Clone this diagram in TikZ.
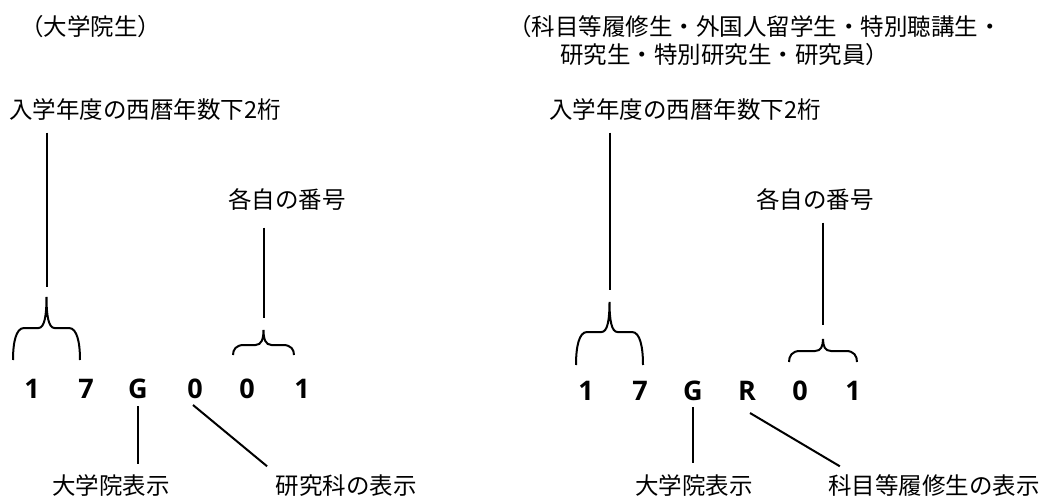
\documentclass[tikz,border=0pt]{standalone}
\usepackage{fontspec}
\newfontfamily\jp{Noto Sans CJK JP}
\newfontfamily\digitfont{Open Sans}
\usetikzlibrary{positioning}

\begin{document}
\begin{tikzpicture}[x=0.5pt,y=-0.5pt,
	lbl/.style={font=\jp\fontsize{11.75}{14}\selectfont,inner sep=0pt,text height=9.4pt,text depth=0.9pt},
	digit/.style={font=\digitfont\bfseries\fontsize{13.5}{16}\selectfont,inner sep=0pt,text height=9.6pt,text depth=0pt},
	lead/.style={line width=1pt},
	pics/upbrace/.style n args={3}{code={
		\draw[lead] (-#1,0) .. controls (-#1,{-#2*0.55}) and ({-#1+3},-#2) .. ({-#1+11},-#2)
			-- (-8,-#2) .. controls (-2,-#2) and (0,{-#2-(#3-#2)*0.4}) .. (0,-#3)
			.. controls (0,{-#2-(#3-#2)*0.4}) and (2,-#2) .. (8,-#2)
			-- ({#1-11},-#2) .. controls ({#1-3},-#2) and (#1,{-#2*0.55}) .. (#1,0);
		\coordinate (-tip) at (0,-#3);
	}}
]
	\useasboundingbox (0,0) rectangle (1043,497);

	\node[lbl,anchor=west] (ltitle) at (20,27) {（大学院生）};
	\node[lbl,anchor=west] (lyear) at (9,110) {入学年度の西暦年数下2桁};
	\node[lbl] (lnum) at (287,200) {各自の番号};
	\foreach \c/\x [count=\i] in {1/32,7/86,G/138,0/195,0/247,1/302}
		\node[digit] (l\i) at (\x,389) {\c};
	\pic (lyb) at (46.5,360) {upbrace={33.5}{32}{63}};
	\pic (lnb) at (263.5,355) {upbrace={30.5}{10}{25}};
	\node[lbl] (lgrad) at (111,486) {大学院表示};
	\node[lbl] (ldept) at (346,486) {研究科の表示};
	\draw[lead,shorten <=6pt,shorten >=5pt] (lyb-tip |- lyear.south) -- (lyb-tip);
	\draw[lead,shorten <=8.5pt,shorten >=6pt] (lnb-tip |- lnum.south) -- (lnb-tip);
	\draw[lead,shorten <=3.5pt,shorten >=5.5pt] (l3.south) -- (l3.south |- lgrad.north);
	\draw[lead] ([xshift=-1pt,yshift=-3pt]l4.south) -- ([xshift=-4pt,yshift=4.5pt]ldept.north west);

	\node[lbl,anchor=west] (rtitle) at (508,27) {（科目等履修生・外国人留学生・特別聴講生・};
	\node[lbl,anchor=west] (rtitle2) at (560,55) {研究生・特別研究生・研究員）};
	\node[lbl,anchor=west] (ryear) at (549,110) {入学年度の西暦年数下2桁};
	\node[lbl] (rnum) at (815,200) {各自の番号};
	\foreach \c/\x [count=\i] in {1/586,7/640,G/693,R/747,0/800,1/853}
		\node[digit] (r\i) at (\x,391) {\c};
	\pic (ryb) at (609.5,365) {upbrace={33.5}{33}{63}};
	\pic (rnb) at (823,362) {upbrace={34}{11}{23}};
	\node[lbl] (rgrad) at (694,486) {大学院表示};
	\node[lbl] (rcred) at (934,486) {科目等履修生の表示};
	\draw[lead,shorten <=6pt,shorten >=6pt] (ryb-tip |- ryear.south) -- (ryb-tip);
	\draw[lead,shorten <=6pt,shorten >=7pt] (rnb-tip |- rnum.south) -- (rnb-tip);
	\draw[lead,shorten <=3pt,shorten >=6pt] (r3.south) -- (r3.south |- rgrad.north);
	\draw[lead] ([xshift=1.5pt,yshift=-6pt]r4.south) -- ([xshift=6pt,yshift=4.5pt]rcred.north west);
\end{tikzpicture}
\end{document}
